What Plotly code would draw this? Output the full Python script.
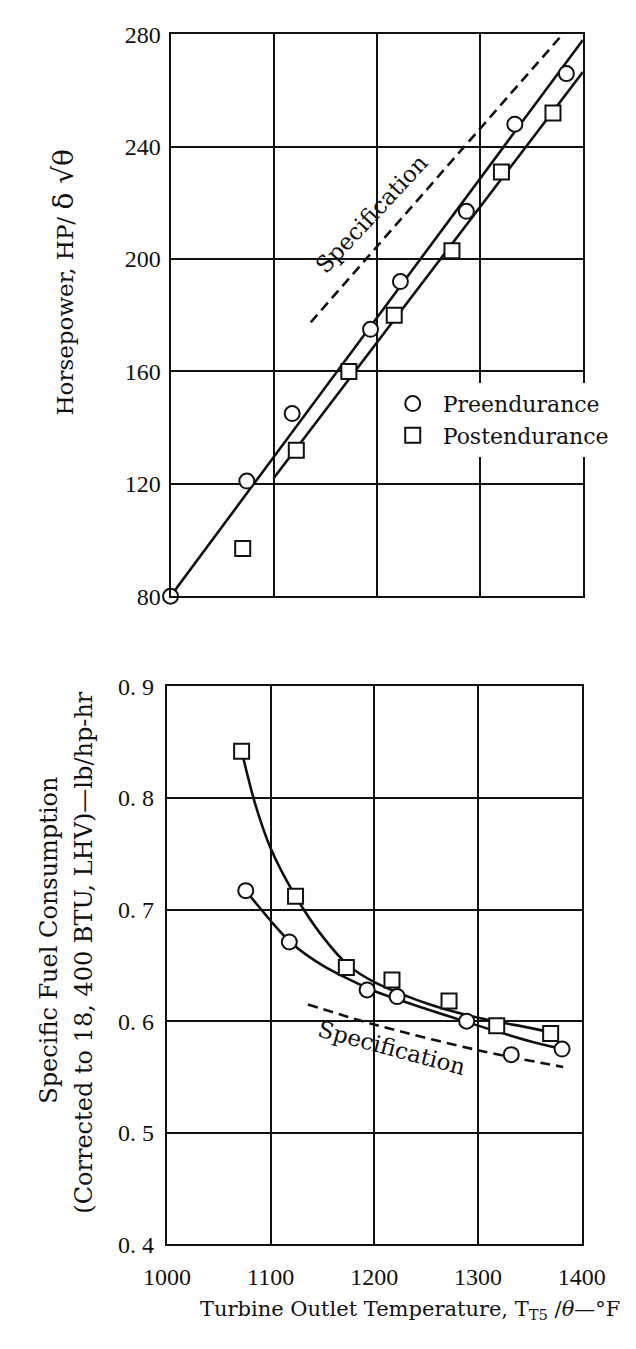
import plotly.graph_objects as go

# ---------------- data ----------------
# Top panel: corrected horsepower vs turbine outlet temperature
pre_hp_x = [1000, 1074, 1118, 1194, 1223, 1287, 1334, 1384]
pre_hp_y = [80, 121, 145, 175, 192, 217, 248, 266]
post_hp_x = [1070, 1122, 1173, 1217, 1273, 1321, 1371]
post_hp_y = [97, 132, 160, 180, 203, 231, 252]
pre_hp_fit_x = [1000, 1400]
pre_hp_fit_y = [80, 278]
post_hp_fit_x = [1100, 1400]
post_hp_fit_y = [122, 266.6]
spec_hp_x = [1136, 1382]
spec_hp_y = [177.5, 280.7]

# Bottom panel: specific fuel consumption vs turbine outlet temperature
pre_sfc_x = [1076, 1118, 1193, 1222, 1289, 1332, 1381]
pre_sfc_y = [0.717, 0.671, 0.628, 0.622, 0.600, 0.570, 0.575]
post_sfc_x = [1072, 1124, 1173, 1217, 1272, 1318, 1370]
post_sfc_y = [0.842, 0.712, 0.648, 0.637, 0.618, 0.596, 0.589]
pre_curve_x = [1076, 1100, 1120, 1150, 1200, 1250, 1300, 1350, 1381]
pre_curve_y = [0.717, 0.690, 0.670, 0.650, 0.627, 0.611, 0.596, 0.582, 0.575]
post_curve_x = [1072, 1085, 1100, 1124, 1150, 1175, 1200, 1250, 1300, 1350, 1375]
post_curve_y = [0.842, 0.795, 0.755, 0.712, 0.676, 0.650, 0.635, 0.616, 0.603, 0.594, 0.589]
spec_sfc_x = [1136, 1200, 1300, 1382]
spec_sfc_y = [0.615, 0.597, 0.574, 0.559]

x_ticks = [1000, 1100, 1200, 1300, 1400]
x_ticklabels = ["1000", "1100", "1200", "1300", "1400"]
hp_ticks = [80, 120, 160, 200, 240, 280]
hp_ticklabels = ["80", "120", "160", "200", "240", "280"]
sfc_ticks = [0.4, 0.5, 0.6, 0.7, 0.8, 0.9]
sfc_ticklabels = ["0. 4", "0. 5", "0. 6", "0. 7", "0. 8", "0. 9"]

# ---------------- styling ----------------
W, H = 636, 1349
FONT = "DejaVu Serif"
TICKFONT = "Liberation Serif"
BLACK = "#111111"
LW = 2.6
MSIZE = 15


def px_x(p):
    return p / W


def px_y(p):
    return 1 - p / H


fig = go.Figure()

line_style = dict(color=BLACK, width=LW)
dash_style = dict(color=BLACK, width=LW, dash="10px,6px")
circle_marker = dict(symbol="circle", size=MSIZE, color="white",
                     line=dict(color=BLACK, width=2))
square_marker = dict(symbol="square", size=MSIZE, color="white",
                     line=dict(color=BLACK, width=2))

# top panel
fig.add_trace(go.Scatter(x=pre_hp_fit_x, y=pre_hp_fit_y, mode="lines",
                         line=line_style, showlegend=False, xaxis="x", yaxis="y"))
fig.add_trace(go.Scatter(x=post_hp_fit_x, y=post_hp_fit_y, mode="lines",
                         line=line_style, showlegend=False, xaxis="x", yaxis="y"))
fig.add_trace(go.Scatter(x=spec_hp_x, y=spec_hp_y, mode="lines",
                         line=dash_style, showlegend=False, xaxis="x", yaxis="y"))
fig.add_trace(go.Scatter(x=pre_hp_x, y=pre_hp_y, mode="markers", name="Preendurance",
                         marker=circle_marker, cliponaxis=False, xaxis="x", yaxis="y"))
fig.add_trace(go.Scatter(x=post_hp_x, y=post_hp_y, mode="markers", name="Postendurance",
                         marker=square_marker, cliponaxis=False, xaxis="x", yaxis="y"))

# bottom panel
fig.add_trace(go.Scatter(x=pre_curve_x, y=pre_curve_y, mode="lines",
                         line=dict(color=BLACK, width=LW, shape="spline", smoothing=0.8),
                         showlegend=False, xaxis="x2", yaxis="y2"))
fig.add_trace(go.Scatter(x=post_curve_x, y=post_curve_y, mode="lines",
                         line=dict(color=BLACK, width=LW, shape="spline", smoothing=0.8),
                         showlegend=False, xaxis="x2", yaxis="y2"))
fig.add_trace(go.Scatter(x=spec_sfc_x, y=spec_sfc_y, mode="lines",
                         line=dict(color=BLACK, width=LW, dash="10px,6px", shape="spline"),
                         showlegend=False, xaxis="x2", yaxis="y2"))
fig.add_trace(go.Scatter(x=pre_sfc_x, y=pre_sfc_y, mode="markers",
                         marker=circle_marker, showlegend=False, cliponaxis=False,
                         xaxis="x2", yaxis="y2"))
fig.add_trace(go.Scatter(x=post_sfc_x, y=post_sfc_y, mode="markers",
                         marker=square_marker, showlegend=False, cliponaxis=False,
                         xaxis="x2", yaxis="y2"))

axis_common = dict(showgrid=True, gridcolor=BLACK, gridwidth=1.6,
                   showline=True, linecolor=BLACK, linewidth=2.2, mirror=True,
                   zeroline=False, ticks="",
                   tickfont=dict(family=TICKFONT, size=24, color=BLACK))

fig.update_layout(
    width=W, height=H,
    margin=dict(l=0, r=0, t=0, b=0),
    paper_bgcolor="white", plot_bgcolor="white",
    xaxis=dict(domain=[px_x(158.5), px_x(604.5)], range=[1000, 1400],
               tickvals=x_ticks, ticktext=x_ticklabels, showticklabels=False,
               anchor="y", **axis_common),
    yaxis=dict(domain=[px_y(594.7), px_y(21.7)], range=[80, 280],
               tickvals=hp_ticks, ticktext=hp_ticklabels, anchor="x",
               ticklabelstandoff=3, **axis_common),
    xaxis2=dict(domain=[px_x(154.6), px_x(603.3)], range=[1000, 1400],
                tickvals=x_ticks, ticktext=x_ticklabels, anchor="y2",
                ticklabelstandoff=10, **axis_common),
    yaxis2=dict(domain=[px_y(1255.5), px_y(686.7)], range=[0.4, 0.9],
                tickvals=sfc_ticks, ticktext=sfc_ticklabels, anchor="x2",
                ticklabelstandoff=6, **axis_common),
    legend=dict(x=px_x(388), y=px_y(377), xanchor="left", yanchor="top",
                bgcolor="white", borderwidth=0, itemwidth=50,
                font=dict(family=FONT, size=22, color=BLACK)),
    showlegend=True,
)

annotations = [
    dict(text="Specification", x=1195, y=216, xref="x", yref="y",
         textangle=-47, showarrow=False,
         font=dict(family=FONT, size=23, color=BLACK)),
    dict(text="Specification", x=1217, y=0.576, xref="x2", yref="y2",
         textangle=15, showarrow=False,
         font=dict(family=FONT, size=23, color=BLACK)),
    dict(text='Horsepower, HP/ <span style="font-size:28px">δ √θ</span>',
         x=px_x(43), y=px_y(275), xref="paper", yref="paper",
         xanchor="center", yanchor="middle", textangle=-90, showarrow=False,
         font=dict(family=FONT, size=23, color=BLACK)),
    dict(text="Specific Fuel Consumption",
         x=px_x(27), y=px_y(945), xref="paper", yref="paper",
         xanchor="center", yanchor="middle", textangle=-90, showarrow=False,
         font=dict(family=FONT, size=24, color=BLACK)),
    dict(text="(Corrected to 18, 400 BTU, LHV)—lb/hp-hr",
         x=px_x(64), y=px_y(958), xref="paper", yref="paper",
         xanchor="center", yanchor="middle", textangle=-90, showarrow=False,
         font=dict(family=FONT, size=24, color=BLACK)),
    dict(text="Turbine Outlet Temperature, T<sub>T5</sub> /<i>θ</i>—°F",
         x=px_x(418), y=px_y(1322), xref="paper", yref="paper",
         xanchor="center", yanchor="middle", showarrow=False,
         font=dict(family=FONT, size=21, color=BLACK)),
]
fig.update_layout(annotations=annotations)

fig.write_html("out.html", config={"displayModeBar": False},
               post_script="document.body.style.margin='0';")
